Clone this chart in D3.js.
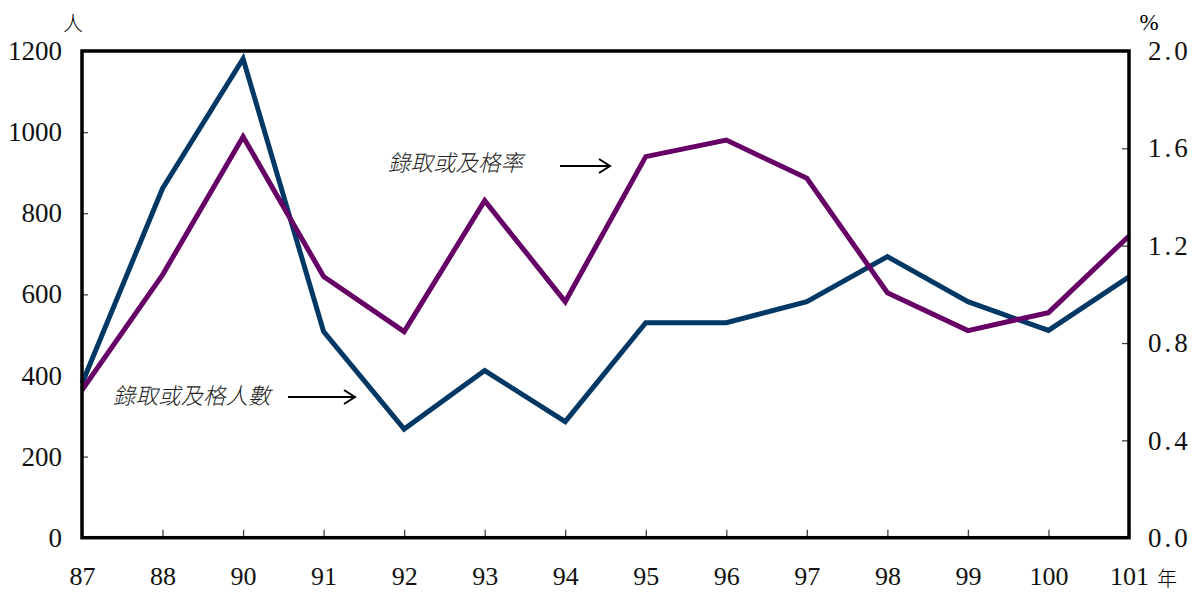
<!DOCTYPE html>
<html><head><meta charset="utf-8">
<script src="https://cdn.jsdelivr.net/npm/d3@7"></script>
<style>
html,body{margin:0;padding:0;background:#fff;}
svg{display:block;}
</style></head>
<body><svg id="c" width="1195" height="593"></svg>
<script>
const years = ["87","88","90","91","92","93","94","95","96","97","98","99","100","101"];
const passCount = [380, 861, 1181, 508, 268, 412, 286, 530, 530, 582, 693, 582, 511, 643];
const passRate = [0.607, 1.08, 1.648, 1.073, 0.847, 1.385, 0.97, 1.566, 1.634, 1.477, 1.007, 0.851, 0.925, 1.24];
const leftTicks = [0, 200, 400, 600, 800, 1000, 1200];
const rightTicks = [0, 0.4, 0.8, 1.2, 1.6, 2.0];
const labelCount = "錄取或及格人數";
const labelRate = "錄取或及格率";

const svg = d3.select("#c");
const L = 82, R = 1129, T = 51, B = 537.7;
const font = "'Liberation Serif','DejaVu Serif',serif";

const x = d3.scalePoint().domain(years).range([L, R]);
const yL = d3.scaleLinear().domain([0, 1200]).range([B, T]);
const yR = d3.scaleLinear().domain([0, 2]).range([B, T]);

// axes
const gx = svg.append("g").attr("transform", `translate(0,${B})`)
  .call(d3.axisBottom(x).tickSizeInner(-8).tickSizeOuter(0).tickPadding(40));
const gl = svg.append("g").attr("transform", `translate(${L},0)`)
  .call(d3.axisLeft(yL).tickValues(leftTicks).tickSizeInner(-6).tickSizeOuter(0).tickPadding(20).tickFormat(d3.format("d")));
const gr = svg.append("g").attr("transform", `translate(${R},0)`)
  .call(d3.axisRight(yR).tickValues(rightTicks).tickSizeInner(-7).tickSizeOuter(0).tickPadding(19).tickFormat(d3.format(".1f")));
[gx, gl, gr].forEach(g => {
  g.select(".domain").remove();
  g.selectAll(".tick line").attr("stroke", "#444").attr("stroke-width", 1.3);
  g.selectAll(".tick text").attr("font-family", font).attr("font-size", 27).attr("fill", "#111");
});
gx.selectAll(".tick text").attr("dy", "0.3em").attr("font-size", 26);
gr.selectAll(".tick text").attr("letter-spacing", 3);

// unit labels
svg.append("text").attr("x", 73).attr("y", 31).attr("text-anchor", "middle")
  .attr("font-family", "'Noto Sans CJK TC',sans-serif").attr("font-size", 20).attr("font-weight", 300).text("人");
svg.append("text").attr("x", 1149).attr("y", 30).attr("text-anchor", "middle")
  .attr("font-family", font).attr("font-size", 23).text("%");
svg.append("text").attr("x", 1157).attr("y", 586)
  .attr("font-family", "'Noto Sans CJK TC',sans-serif").attr("font-size", 20).attr("font-weight", 300).text("年");

// lines
const lineL = d3.line().x((d, i) => x(years[i])).y(d => yL(d));
const lineR = d3.line().x((d, i) => x(years[i])).y(d => yR(d));
svg.append("path").datum(passCount).attr("d", lineL)
  .attr("fill", "none").attr("stroke", "#003865").attr("stroke-width", 5).attr("stroke-linejoin", "miter");
svg.append("path").datum(passRate).attr("d", lineR)
  .attr("fill", "none").attr("stroke", "#660066").attr("stroke-width", 5).attr("stroke-linejoin", "miter");

// frame
svg.append("rect").attr("x", L).attr("y", T).attr("width", R - L).attr("height", B - T)
  .attr("fill", "none").attr("stroke", "#000").attr("stroke-width", 3.5);

// annotations
const ann = (txt, tx, ty, ax1, ax2, ay) => {
  svg.append("text").attr("x", tx).attr("y", ty)
    .attr("font-family", "'Noto Sans CJK TC',sans-serif").attr("font-size", 22.5).attr("font-weight", 300)
    .attr("font-style", "italic").attr("fill", "#222").text(txt);
  svg.append("line").attr("x1", ax1).attr("x2", ax2).attr("y1", ay).attr("y2", ay)
    .attr("stroke", "#000").attr("stroke-width", 2);
  svg.append("path").attr("d", `M${ax2 - 11},${ay - 7} L${ax2},${ay} L${ax2 - 11},${ay + 7}`)
    .attr("fill", "none").attr("stroke", "#000").attr("stroke-width", 2);
};
ann(labelRate, 388, 171, 560, 610, 166);
ann(labelCount, 113, 404, 288, 355, 397);
</script>
</body></html>
